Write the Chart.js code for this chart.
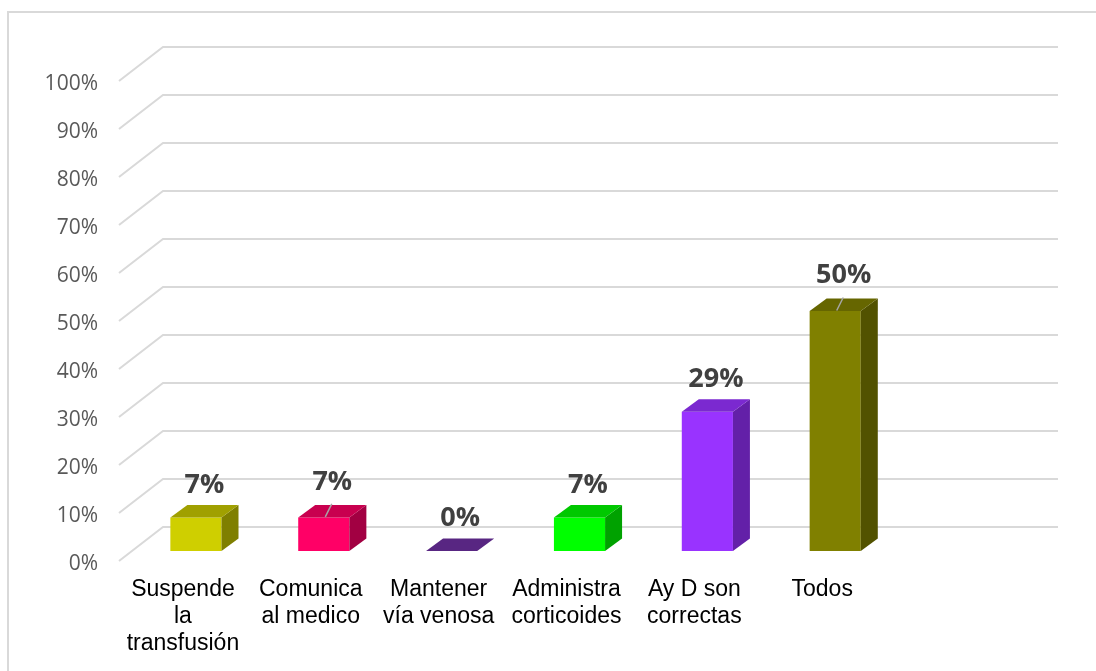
<!DOCTYPE html>
<html>
<head>
<meta charset="utf-8">
<script src="https://cdn.jsdelivr.net/npm/chart.js@4.4.0/dist/chart.umd.min.js"></script>
<style>
  html, body { margin: 0; padding: 0; background: #fff; }
  #wrap { position: relative; width: 1096px; height: 671px; }
</style>
</head>
<body>
<div id="wrap"><canvas id="myChart" width="1096" height="671"></canvas></div>
<script>
// answers and their share of responses (%)
var categories = [
  ['Suspende', 'la', 'transfusión'],
  ['Comunica', 'al medico'],
  ['Mantener', 'vía venosa'],
  ['Administra', 'corticoides'],
  ['Ay D son', 'correctas'],
  'Todos',
  ''
];
var values = [7, 7, 0, 7, 29, 50, null];
var yTicks = [0, 10, 20, 30, 40, 50, 60, 70, 80, 90, 100];

// front / top / side face colours of each column
var frontColors = ['#cfcf00', '#ff0066', '#7030a0', '#00ff00', '#9933ff', '#808000', '#000'];
var topColors   = ['#a0a000', '#c8004f', '#582682', '#00c800', '#7b29d0', '#666600', '#000'];
var sideColors  = ['#7f7f00', '#a20042', '#4a1f6e', '#00a200', '#6320a8', '#525200', '#000'];
var leaders     = [false, true, false, false, false, true, false];

var wallX = 44, wallY = 34;     // depth of the floor
var shiftX = 13, shiftY = 10;   // columns sit a bit behind the front edge
var depthX = 17, depthY = 12.5; // depth of each column

var box3d = {
  id: 'box3d',
  beforeDraw: function(chart) {
    var ctx = chart.ctx, area = chart.chartArea, ys = chart.scales.y;
    ctx.save();
    ctx.strokeStyle = '#d9d9d9';
    ctx.lineWidth = 2;
    ctx.beginPath();
    ctx.moveTo(8, 680); ctx.lineTo(8, 12); ctx.lineTo(1100, 12);
    ctx.stroke();
    // side wall diagonals + back wall gridlines
    ys.ticks.forEach(function(t) {
      var py = ys.getPixelForValue(t.value);
      ctx.beginPath();
      ctx.moveTo(area.left, py);
      ctx.lineTo(area.left + wallX, py - wallY);
      ctx.lineTo(area.right + wallX, py - wallY);
      ctx.stroke();
    });
    ctx.restore();
  },
  beforeDatasetsDraw: function(chart) {
    chart.ctx.save();
    chart.ctx.translate(shiftX, -shiftY);
  },
  afterDatasetsDraw: function(chart) {
    var ctx = chart.ctx;
    var meta = chart.getDatasetMeta(0);
    meta.data.forEach(function(bar, i) {
      if (values[i] === null) return;
      var p = bar.getProps(['x', 'y', 'base', 'width'], true);
      var l = p.x - p.width / 2, r = p.x + p.width / 2;
      if (p.base - p.y > 0.5) {
        ctx.fillStyle = sideColors[i];
        ctx.beginPath();
        ctx.moveTo(r, p.y);
        ctx.lineTo(r + depthX, p.y - depthY);
        ctx.lineTo(r + depthX, p.base - depthY);
        ctx.lineTo(r, p.base);
        ctx.closePath();
        ctx.fill();
      }
      ctx.fillStyle = topColors[i];
      ctx.beginPath();
      ctx.moveTo(l, p.y);
      ctx.lineTo(l + depthX, p.y - depthY);
      ctx.lineTo(r + depthX, p.y - depthY);
      ctx.lineTo(r, p.y);
      ctx.closePath();
      ctx.fill();

      // value label
      var ly = p.y - depthY - 20 - (leaders[i] ? 3 : 0);
      ctx.font = 'bold 27px "Open Sans"';
      ctx.fillStyle = '#404040';
      ctx.textAlign = 'center';
      ctx.textBaseline = 'middle';
      ctx.fillText(values[i] + '%', p.x + depthX / 2, ly);
      if (leaders[i]) {
        ctx.strokeStyle = '#a6a6a6';
        ctx.lineWidth = 1.5;
        ctx.beginPath();
        ctx.moveTo(p.x + 8, p.y - depthY - 1);
        ctx.lineTo(p.x + 1.5, p.y - 0.5);
        ctx.stroke();
      }
    });
    ctx.restore();
  }
};

var ctx = document.getElementById('myChart').getContext('2d');
var myChart = new Chart(ctx, {
  type: 'bar',
  data: {
    labels: categories,
    datasets: [{
      data: values,
      backgroundColor: frontColors,
      borderWidth: 0,
      categoryPercentage: 1,
      barPercentage: 0.4,
      clip: false
    }]
  },
  options: {
    responsive: false,
    animation: false,
    layout: { padding: { top: 81, right: 82, left: 0, bottom: 0 } },
    plugins: { legend: { display: false }, tooltip: { enabled: false } },
    scales: {
      x: {
        grid: { display: false, drawTicks: false },
        border: { display: false },
        ticks: {
          color: '#000',
          font: { family: '"Liberation Sans", Arial', size: 23, lineHeight: 1.17 },
          padding: 15,
          maxRotation: 0,
          autoSkip: false
        },
        afterFit: function(scale) { scale.height = 110; }
      },
      y: {
        min: 0,
        max: 100,
        grid: { display: false, drawTicks: false },
        border: { display: false },
        afterBuildTicks: function(scale) {
          scale.ticks = yTicks.map(function(v) { return { value: v }; });
        },
        ticks: {
          color: '#595959',
          font: { family: '"Open Sans"', size: 21 },
          padding: 21,
          labelOffset: 3,
          callback: function(v) { return v + '%'; }
        },
        afterFit: function(scale) { scale.width = 119; }
      }
    }
  },
  plugins: [box3d]
});
</script>
</body>
</html>
